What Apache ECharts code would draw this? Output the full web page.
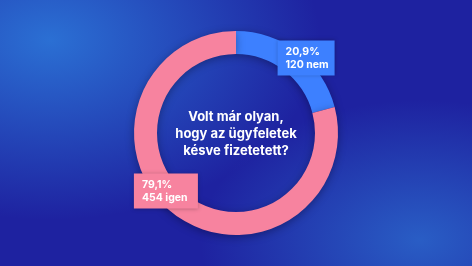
<!DOCTYPE html>
<html><head><meta charset="utf-8">
<script src="https://cdn.jsdelivr.net/npm/echarts@6/dist/echarts.min.js"></script>
<style>
html,body{margin:0;padding:0;width:472px;height:266px;overflow:hidden;}
body{background:
 radial-gradient(ellipse 270px 180px at 50px 40px, rgba(44,118,216,0.92), rgba(44,118,216,0) 100%),
 radial-gradient(ellipse 220px 140px at 420px 240px, rgba(44,108,206,0.8), rgba(44,108,206,0) 100%),
 #1e22a0;}
#c{width:472px;height:266px;}
</style></head>
<body><div id="c"></div>
<script>
const categories = ['nem', 'igen'];
const counts = [120, 454];
const percents = ['20,9%', '79,1%'];
const colors = ['#3d80ff', '#f7839f'];
const question = 'Volt már olyan,\nhogy az ügyfeletek\nkésve fizetetett?';

const el = document.getElementById('c');
const chart = echarts.init(el, null, {renderer:'canvas'});
const offsets = [[13, -1], [-13, -16]];
const boxW = [41, 48];
chart.setOption({
  backgroundColor: 'transparent',
  graphic: [{
    type: 'text',
    x: el.clientWidth / 2, y: el.clientHeight / 2 + 1,
    silent: true,
    style: {
      text: question,
      fill: '#ffffff',
      font: '700 13px Inter',
      lineHeight: 17,
      align: 'center',
      verticalAlign: 'middle'
    }
  }],
  series: [{
    type: 'pie',
    center: ['50%', '50%'],
    radius: [79, 102],
    startAngle: 90,
    clockwise: true,
    silent: true,
    itemStyle: {shadowBlur: 8, shadowColor: 'rgba(0,0,20,0.35)', shadowOffsetY: 2},
    label: {
      show: true,
      position: 'inside',
      color: '#ffffff',
      padding: [5, 8, 4, 8],
      shadowBlur: 4,
      shadowColor: 'rgba(0,0,0,0.25)',
      formatter: p => '{t|' + percents[p.dataIndex] + '}\n{t|' + counts[p.dataIndex] + ' ' + categories[p.dataIndex] + '}'
    },
    labelLine: {show:false},
    data: categories.map((c, i) => ({
      name: c, value: counts[i],
      itemStyle: {color: colors[i]},
      label: {backgroundColor: colors[i], offset: offsets[i],
        rich: {t: {color:'#ffffff', fontFamily:'Inter', fontWeight:700, fontSize:10.5, lineHeight:13, width: boxW[i], align:'left'}}}
    }))
  }]
});
</script></body></html>
